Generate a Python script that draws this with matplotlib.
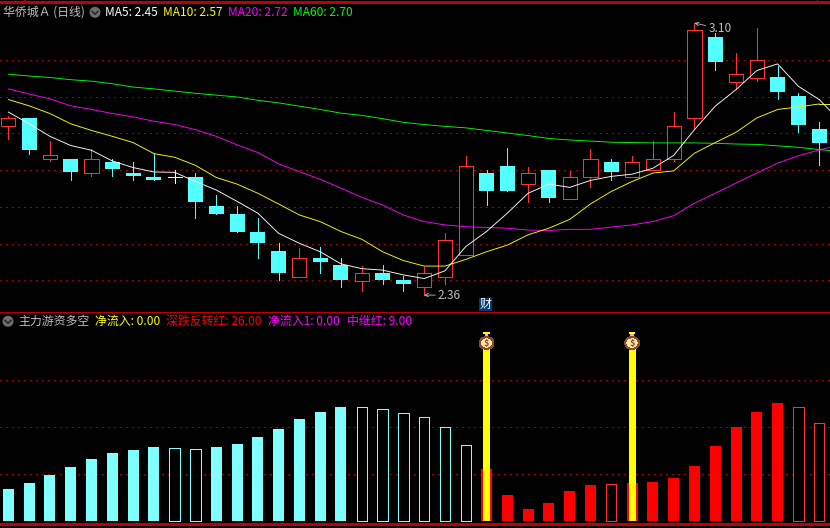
import matplotlib
matplotlib.use("Agg")
import matplotlib.pyplot as plt
from matplotlib.patches import Ellipse, Circle, Rectangle

plt.rcParams['font.family'] = ['Noto Sans CJK SC', 'DejaVu Sans']
plt.rcParams['lines.antialiased'] = False
plt.rcParams['patch.antialiased'] = False

opens = [2.819, 2.842, 2.729, 2.731, 2.691, 2.722, 2.693, 2.682, 2.681, 2.682,
         2.603, 2.581, 2.532, 2.480, 2.410, 2.461, 2.442, 2.399, 2.420, 2.401,
         2.381, 2.410, 2.470, 2.693, 2.712, 2.661, 2.701, 2.621, 2.681, 2.722,
         2.681, 2.699, 2.730, 2.842, 3.061, 2.940, 2.951, 2.952, 2.903, 2.812]
closes = [2.842, 2.754, 2.741, 2.694, 2.730, 2.702, 2.683, 2.672, 2.681, 2.612,
          2.582, 2.533, 2.503, 2.421, 2.460, 2.451, 2.402, 2.419, 2.402, 2.391,
          2.419, 2.509, 2.711, 2.642, 2.642, 2.692, 2.623, 2.681, 2.730, 2.694,
          2.722, 2.730, 2.820, 3.082, 2.994, 2.962, 3.000, 2.912, 2.822, 2.773]
highs = [2.848, 2.842, 2.779, 2.731, 2.757, 2.730, 2.722, 2.744, 2.701, 2.692,
         2.633, 2.603, 2.570, 2.502, 2.488, 2.491, 2.461, 2.439, 2.442, 2.412,
         2.437, 2.528, 2.739, 2.701, 2.760, 2.708, 2.701, 2.698, 2.758, 2.731,
         2.739, 2.779, 2.859, 3.100, 3.072, 3.019, 3.087, 2.983, 2.910, 2.831]
lows = [2.785, 2.743, 2.724, 2.672, 2.683, 2.683, 2.672, 2.672, 2.665, 2.571,
        2.582, 2.533, 2.462, 2.402, 2.410, 2.420, 2.382, 2.371, 2.390, 2.371,
        2.360, 2.390, 2.470, 2.604, 2.642, 2.612, 2.612, 2.621, 2.653, 2.672,
        2.681, 2.699, 2.724, 2.812, 2.972, 2.922, 2.942, 2.893, 2.803, 2.713]

ma5 = [2.858, 2.826, 2.792, 2.767, 2.754, 2.725, 2.707, 2.695, 2.694, 2.669,
       2.646, 2.615, 2.583, 2.528, 2.501, 2.478, 2.445, 2.432, 2.428, 2.415,
       2.405, 2.426, 2.492, 2.533, 2.583, 2.637, 2.662, 2.653, 2.672, 2.683,
       2.689, 2.705, 2.740, 2.810, 2.874, 2.919, 2.971, 2.989, 2.928, 2.892]
ma10 = [2.892, 2.875, 2.854, 2.826, 2.808, 2.792, 2.775, 2.745, 2.735, 2.713,
        2.680, 2.662, 2.637, 2.608, 2.578, 2.560, 2.533, 2.512, 2.478, 2.454,
        2.439, 2.439, 2.457, 2.478, 2.496, 2.524, 2.542, 2.566, 2.608, 2.642,
        2.669, 2.692, 2.698, 2.746, 2.775, 2.803, 2.842, 2.865, 2.872, 2.880]
ma20 = [2.921, 2.907, 2.894, 2.875, 2.865, 2.854, 2.845, 2.833, 2.824, 2.810,
        2.792, 2.769, 2.748, 2.717, 2.696, 2.675, 2.651, 2.626, 2.605, 2.578,
        2.560, 2.551, 2.546, 2.544, 2.542, 2.537, 2.536, 2.539, 2.539, 2.545,
        2.551, 2.560, 2.576, 2.610, 2.637, 2.665, 2.692, 2.719, 2.739, 2.755]
ma60 = [2.961, 2.956, 2.952, 2.946, 2.942, 2.935, 2.926, 2.921, 2.915, 2.909,
        2.904, 2.899, 2.890, 2.883, 2.874, 2.865, 2.855, 2.849, 2.840, 2.830,
        2.824, 2.819, 2.815, 2.808, 2.801, 2.794, 2.786, 2.782, 2.779, 2.776,
        2.775, 2.774, 2.774, 2.774, 2.773, 2.771, 2.770, 2.766, 2.762, 2.756]

flow = [6.95, 8.2, 9.9, 11.6, 13.3, 14.6, 15.2, 15.7, 15.6, 15.4,
        15.7, 16.5, 18.0, 19.7, 21.8, 23.3, 24.2, 24.3, 23.9, 23.0,
        22.1, 20.1, 16.3, 11.1, 5.5, 2.6, 3.8, 6.4, 7.7, 8.0,
        8.1, 8.3, 9.1, 11.7, 16.0, 20.0, 23.2, 25.1, 24.4, 20.8]
flow_hollow = [8, 9, 17, 18, 19, 20, 21, 22, 29, 38, 39]
first_red = 23
signal_days = [23, 30]
signal_height = 36.6

price_grid = [2.4, 2.5, 2.6, 2.7, 2.8, 2.9, 3.0]
flow_grid = [10, 20, 30]

BLACK = "#000000"
RED = "#ff3232"
CYAN = "#54ffff"
BAR_CYAN = "#80ffff"
BORDER = "#c00000"
GRID = "#a00000"
GRAY = "#c0c0c0"
W, H = 830, 528
LW = 0.72  # one pixel at dpi 100
MA_LW = 0.65


def place(top, bottom):
    return [0, 1 - bottom / H, 1, (bottom - top) / H]


def ma_line(xs, ys, col):
    ax1.plot(xs, ys, color=col, lw=MA_LW, zorder=3, antialiased=True)


fig = plt.figure(figsize=(W / 100, H / 100), dpi=100, facecolor=BLACK)
ax1 = fig.add_axes(place(2.5, 312.5))
ax2 = fig.add_axes(place(312.5, 524.5))
for ax in (ax1, ax2):
    ax.set_xlim(-0.4, 39.52)
    ax.axis("off")
ax1.set_ylim(2.3127, 3.156)
ax2.set_ylim(-0.7, 44.4)

ax1.hlines(price_grid, -0.4, 39.52, color=GRID, lw=LW, linestyles=[(0, (1.2, 4.5))], zorder=1, antialiased=False)
ax2.hlines(flow_grid, -0.4, 39.52, color=GRID, lw=LW, linestyles=[(0, (1.2, 4.5))], zorder=1, antialiased=False)

# candles
for i in range(len(opens)):
    o, c, h, l = opens[i], closes[i], highs[i], lows[i]
    if o == c:
        ax1.plot([i, i], [l, h], color="white", lw=LW, zorder=2)
        ax1.plot([i - 0.33, i + 0.33], [o, o], color="white", lw=LW, zorder=2)
    elif c > o:
        ax1.plot([i, i], [l, h], color=RED, lw=LW, zorder=2)
        ax1.bar(i, c - o, bottom=o, width=0.68, facecolor=BLACK, edgecolor=RED, lw=LW, zorder=2.5)
    else:
        ax1.plot([i, i], [l, h], color=CYAN, lw=LW, zorder=2)
        ax1.bar(i, o - c, bottom=c, width=0.72, facecolor=CYAN, edgecolor=CYAN, lw=0, zorder=2.5)

days = range(len(ma5))
ma_line(days, ma60, "#00ff00")
ma_line(days, ma20, "#ff00ff")
ma_line(days, ma10, "#ffff00")
ma_line(days, ma5, "white")
ma_line([39, 39.52], [ma5[39], 2.862], "white")
ma_line([39, 39.52], [ma10[39], 2.880], "#ffff00")
ma_line([39, 39.52], [ma20[39], 2.762], "#ff00ff")
ma_line([39, 39.52], [ma60[39], 2.753], "#00ff00")

# high / low labels
ax1.annotate("3.10", xy=(33, 3.10), xytext=(10, -4), textcoords="offset points", color=GRAY,
             fontsize=8.6, va="center", zorder=5,
             arrowprops=dict(arrowstyle="->", color=GRAY, lw=0.6, shrinkA=0, shrinkB=0, mutation_scale=6, antialiased=True))
low_day = lows.index(min(lows))
ax1.annotate("2.36", xy=(low_day, 2.36), xytext=(10, 0), textcoords="offset points", color=GRAY,
             fontsize=8.6, va="center", zorder=5,
             arrowprops=dict(arrowstyle="->", color=GRAY, lw=0.6, shrinkA=0, shrinkB=0, mutation_scale=6, antialiased=True))

# lower panel
for i, v in enumerate(flow):
    col = BAR_CYAN if i < first_red else "#ff0000"
    if i in flow_hollow:
        edge = BAR_CYAN if i < first_red else RED
        ax2.bar(i, v, width=0.5, facecolor=BLACK, edgecolor=edge, lw=LW, zorder=2)
    else:
        ax2.bar(i, v, width=0.53, color=col, lw=0, zorder=2)

for i in signal_days:
    ax2.bar(i, signal_height, width=0.34, color="#ffff00", lw=0, zorder=3)
    ax2.add_patch(Rectangle((i - 0.16, 39.9), 0.32, 0.4, facecolor="#ffff00", lw=0, zorder=4))
    ax2.add_patch(Rectangle((i - 0.09, 38.7), 0.18, 1.2, facecolor="#e8c860", lw=0, zorder=4))
    ax2.add_patch(Ellipse((i, 37.9), 0.67, 2.5, facecolor="#ffe9a0", edgecolor="#8a4a30", lw=LW, zorder=4))
    ax2.text(i, 37.8, "$", color="#8a3a30", fontsize=6.5, fontweight="bold", ha="center", va="center", zorder=5)

# header text, pixel placed
over = fig.add_axes([0, 0, 1, 1])
over.set_xlim(0, W)
over.set_ylim(H, 0)
over.axis("off")
over.patch.set_alpha(0)

over.plot([0, W], [2.3, 2.3], color=BORDER, lw=1.0)
over.plot([0, W], [312.3, 312.3], color=BORDER, lw=LW)
over.plot([0, W], [524.3, 524.3], color=BORDER, lw=1.0)
over.plot([23.5, 23.5], [0, 3], color=BORDER, lw=LW)
over.plot([816.5, 816.5], [0, 3], color=BORDER, lw=LW)


def chevron(x, y):
    over.add_patch(Circle((x, y), 5.5, facecolor="#6e6e6e", lw=0, antialiased=True))
    over.plot([x - 3, x, x + 3], [y - 1, y + 2, y - 1], color="#222222", lw=1.0, antialiased=True)


chevron(95, 12.3)
chevron(8, 321.3)

top_texts = [(3, "华侨城Ａ (日线)", GRAY), (105, "MA5: 2.45", "white"), (163, "MA10: 2.57", "#ffff00"),
             (228, "MA20: 2.72", "#ff00ff"), (293, "MA60: 2.70", "#00ff00")]
for x, s, col in top_texts:
    over.text(x, 12, s, color=col, fontsize=8.6, va="center", ha="left")

low_texts = [(18, "主力游资多空", GRAY), (95, "净流入: 0.00", "#ffff00"), (166, "深跌反转红: 26.00", "#ff0000"),
             (268, "净流入1: 0.00", "#ff00ff"), (347, "中继红: 9.00", "#ff00ff")]
for x, s, col in low_texts:
    over.text(x, 321, s, color=col, fontsize=8.6, va="center", ha="left")

over.add_patch(Rectangle((479, 298), 13, 13, facecolor="#003a70", lw=0))
over.text(485.5, 304.5, "财", color="white", fontsize=8.6, ha="center", va="center")

fig.savefig("out.png", dpi=100, facecolor=BLACK)
